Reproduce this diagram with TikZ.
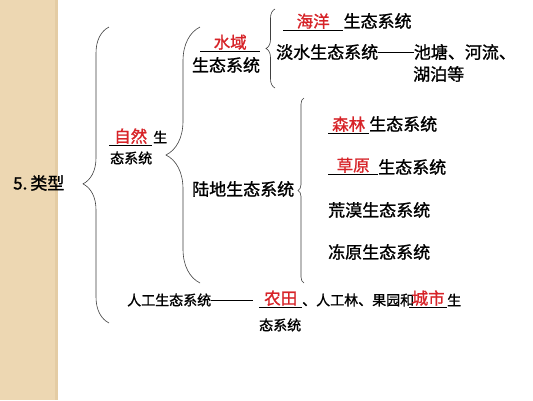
\documentclass[tikz,border=0pt]{standalone}
\usepackage{fontspec}
\setmainfont{Noto Sans CJK SC}[RawFeature={embolden=1.2}]
\usetikzlibrary{decorations.pathreplacing}
\definecolor{strip}{RGB}{237,215,178}
\definecolor{stripedge}{RGB}{228,204,164}
\definecolor{ansred}{RGB}{215,35,40}
\newcommand{\lnk}[1]{\rule[0.33em]{#1em}{0.06em}}
\tikzset{
  txt/.style={font=\fontsize{17}{20}\selectfont, inner sep=0pt},
  sml/.style={font=\fontsize{14}{17}\selectfont, inner sep=0pt},
  blank/.style={font=\fontsize{16.5}{19}\selectfont, text=ansred, inner xsep=0pt, inner ysep=1pt,
    minimum width=#1, anchor=south west},
  brc/.style={decorate, decoration={brace, amplitude=#1}, draw=black!75, line width=0.6pt},
  uline/.style={draw=black, line width=0.7pt},
}
\begin{document}
\begin{tikzpicture}[x=1pt,y=-1pt]
        \useasboundingbox (0,0) rectangle (533,400);
        \fill[white] (0,0) rectangle (533,400);
        \fill[strip] (0,0) rectangle (58,400);
        \fill[stripedge] (55,0) rectangle (58,400);
        % root
        \node[txt, anchor=west] (kind) at (13,183) {5.\hspace{3pt}类型};
        \coordinate (b1s) at (109,323);
        \coordinate (b1e) at (109,27);
        \draw[brc=26pt, decoration={aspect=0.47}] (b1s) -- (b1e);
        % natural
        \node[blank=43pt] (zr) at (109,145) {自然};
        \draw[uline] (zr.south west) -- (zr.south east);
        \node[sml, anchor=west] (zr2) at (153,137) {生};
        \node[sml, anchor=west] (zr3) at (110,158) {态系统};
        \coordinate (b2s) at (200,283);
        \coordinate (b2e) at (200,27);
        \draw[brc=34pt] (b2s) -- (b2e);
        % water
        \node[blank=60pt] (sy) at (200,51) {水域};
        \draw[uline] (sy.south west) -- (sy.south east);
        \node[txt] (sy2) at (226,65) {生态系统};
        \coordinate (b3s) at (275,88);
        \coordinate (b3e) at (275,9);
        \draw[brc=9pt] (b3s) -- (b3e);
        \node[blank=60pt] (hy) at (283,30) {海洋};
        \draw[uline] (hy.south west) -- (hy.south east);
        \node[txt, anchor=west] (hy2) at (hy.south east |- 0,21) {生态系统};
        \node[txt, anchor=west] (ds) at (276,52) {淡水生态系统\lnk{2.1}池塘、河流、};
        \node[txt, anchor=west] (ds2) at (413,74) {湖泊等};
        % land
        \node[txt, anchor=west] (ld) at (192,189) {陆地生态系统};
        \coordinate (b4s) at (304,283);
        \coordinate (b4e) at (304,98);
        \draw[brc=6pt] (b4s) -- (b4e);
        \node[blank=41pt] (sl) at (328,133) {森林};
        \draw[uline] (sl.south west) -- (sl.south east);
        \node[txt, anchor=west] (sl2) at (369,124) {生态系统};
        \node[blank=50pt] (cy) at (328,174) {草原};
        \draw[uline] (cy.south west) -- (cy.south east);
        \node[txt, anchor=west] (cy2) at (378,167) {生态系统};
        \node[txt, anchor=west] (hm) at (328,210) {荒漠生态系统};
        \node[txt, anchor=west] (dy) at (328,252) {冻原生态系统};
        % artificial
        \node[sml, anchor=west] (rg) at (127,300) {人工生态系统\lnk{3}};
        \node[blank=43pt] (nt) at (259,307) {农田};
        \draw[uline] (nt.south west) -- (nt.south east);
        \node[sml, anchor=west] (rg2) at (302,300) {、人工林、果园和};
        \node[blank=38pt] (cs) at (409,307) {城市};
        \draw[uline] (cs.south west) -- (cs.south east);
        \node[sml, anchor=west] (rg3) at (447,300) {生};
        \node[sml, anchor=west] (rg4) at (259,325) {态系统};
      \end{tikzpicture}
\end{document}
